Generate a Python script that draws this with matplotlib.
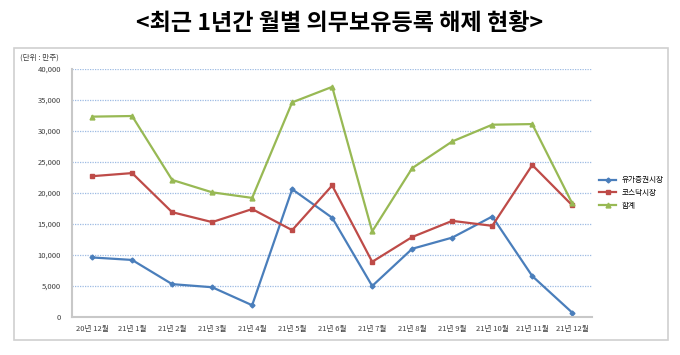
import matplotlib.pyplot as plt
from matplotlib.patches import Rectangle

plt.rcParams['font.family'] = ['Noto Sans CJK KR', 'DejaVu Sans']

months = ['20년 12월', '21년 1월', '21년 2월', '21년 3월', '21년 4월', '21년 5월', '21년 6월',
          '21년 7월', '21년 8월', '21년 9월', '21년 10월', '21년 11월', '21년 12월']
kospi = [9600, 9200, 5300, 4800, 1900, 20600, 16000, 5000, 11000, 12800, 16200, 6600, 700]
kosdaq = [22700, 23200, 16900, 15300, 17400, 14000, 21200, 8900, 12900, 15500, 14700, 24500, 18000]
total = [32300, 32400, 22100, 20100, 19200, 34600, 37100, 13800, 24000, 28300, 31000, 31100, 18300]
yticks = [0, 5000, 10000, 15000, 20000, 25000, 30000, 35000, 40000]

fig = plt.figure(figsize=(6.8, 3.55), dpi=100)
fig.patches.append(Rectangle((0.021, 0.042), 0.961, 0.823, transform=fig.transFigure,
                             fill=False, edgecolor='#d0d0d0', linewidth=1.2))
fig.text(0.5, 0.935, '<최근 1년간 월별 의무보유등록 해제 현황>', ha='center', va='center',
         fontsize=16.6, fontweight='bold')
fig.text(0.03, 0.838, '(단위 : 만주)', ha='left', va='center', fontsize=5.5, color='#404040')

ax = fig.add_axes([0.106, 0.107, 0.765, 0.699])
x = list(range(len(months)))
ax.plot(x, kospi, color='#4a7ebb', marker='D', markersize=2.5, linewidth=1.6, label='유가증권시장')
ax.plot(x, kosdaq, color='#be4b48', marker='s', markersize=3.5, linewidth=1.6, label='코스닥시장')
ax.plot(x, total, color='#98b954', marker='^', markersize=3.5, linewidth=1.6, label='합계')

ax.set_xlim(-0.5, 12.5)
ax.set_ylim(0, 40000)
ax.set_xticks(x)
ax.set_xticklabels(months, fontsize=5.5, color='#404040')
ax.set_yticks(yticks)
ax.set_yticklabels([f'{v:,}' for v in yticks], fontsize=5.5, color='#404040')
ax.tick_params(axis='x', length=0, pad=6)
ax.tick_params(axis='y', length=0, pad=8)
ax.grid(axis='y', color='#9dbbe3', linestyle=(0, (1, 1)), linewidth=0.9)
ax.set_axisbelow(True)
for s in ['top', 'right']:
    ax.spines[s].set_visible(False)
ax.spines['left'].set_color('#c8c8c8')
ax.spines['left'].set_linewidth(1.5)
ax.spines['bottom'].set_color('#c8c8c8')
ax.spines['bottom'].set_linewidth(1.5)

ax.legend(loc='center left', bbox_to_anchor=(1.0, 0.5), frameon=False, fontsize=5.5,
          handlelength=2.2, labelspacing=0.6)

fig.savefig('out.png', dpi=100)
